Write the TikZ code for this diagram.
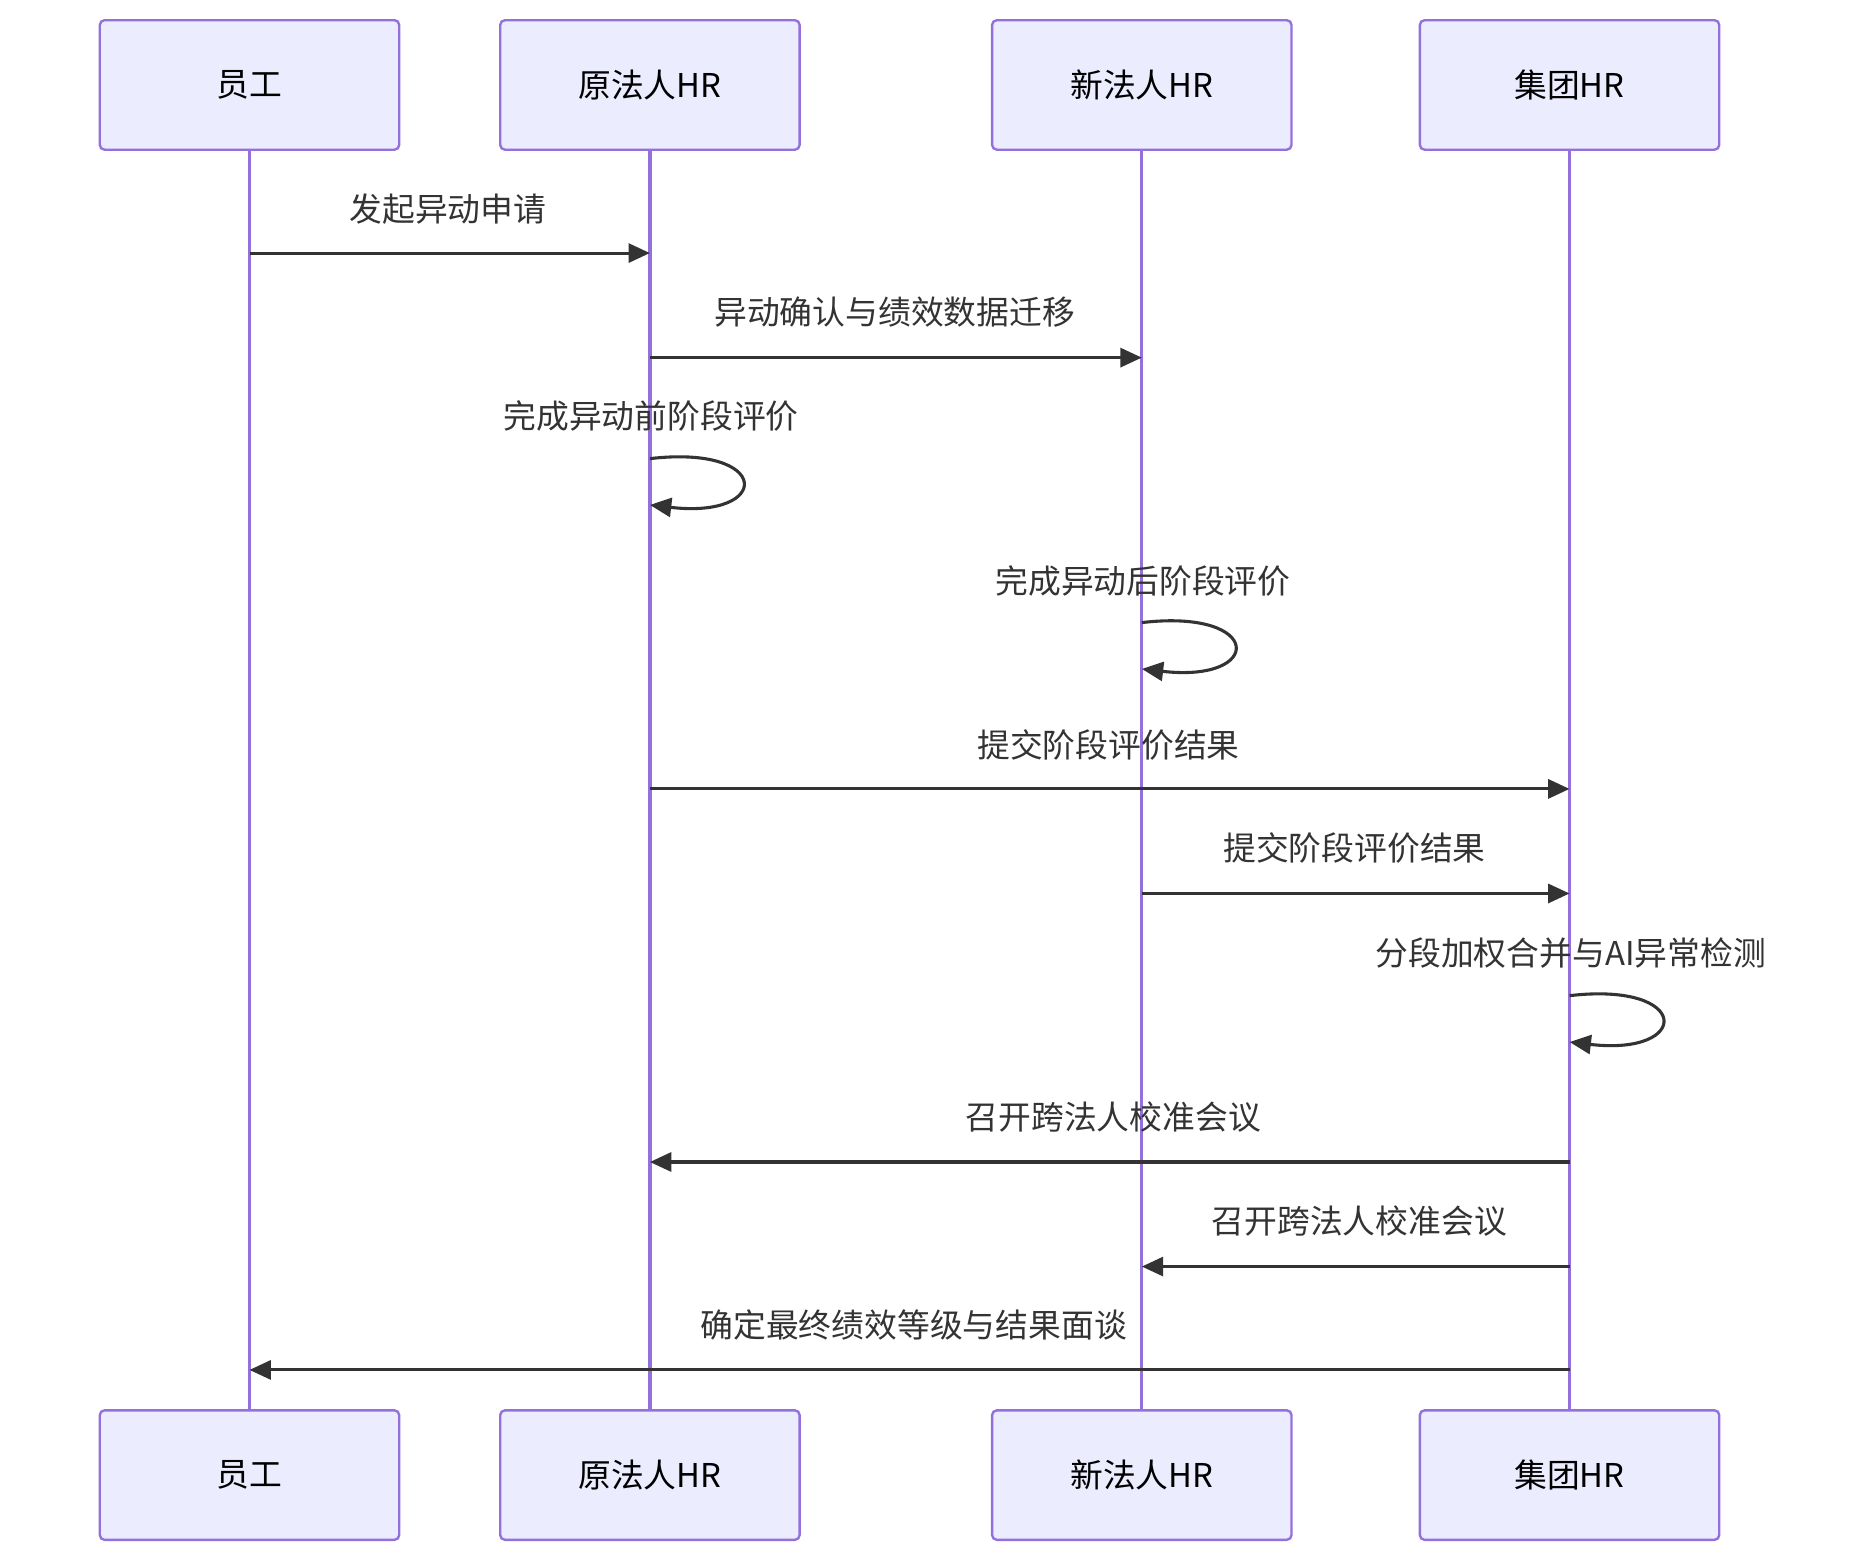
\documentclass[tikz,border=0pt]{standalone}
\usepackage{fontspec}
\setmainfont{Noto Sans CJK SC}
\usetikzlibrary{arrows.meta}
\definecolor{boxf}{HTML}{ECECFF}
\definecolor{boxd}{HTML}{9370DB}
\definecolor{ln}{HTML}{333333}
\begin{document}
\begin{tikzpicture}[x=0.5pt,y=-0.5pt,
  actor/.style={draw=boxd,fill=boxf,line width=1pt,rounded corners=2pt,minimum width=126pt,minimum height=54.5pt,font=\fontsize{13.8}{16}\selectfont,inner sep=0},
  life/.style={draw=boxd,line width=1.4pt},
  msg/.style={draw=ln,line width=1.3pt,-{Triangle[length=9pt,width=8pt]}},
  lab/.style={font=\fontsize{13.8}{16}\selectfont,text=ln,inner sep=0}]
\useasboundingbox (0,0) rectangle (1568,1315);
\foreach \n/\x/\t in {a/210/员工,b/547/原法人HR,c/961/新法人HR,d/1321/集团HR}{
  \node[actor] (\n t) at (\x,71.5) {\t};
  \node[actor] (\n b) at (\x,1241.5) {\t};
  \draw[life] (\n t.south) -- (\n b.north);
}
\foreach \n/\x in {a/210,b/547,c/961,d/1321}{
  \foreach \y in {213,301,386,425,524,563,664,752,838,877,978,1066,1153}{
    \coordinate (\n\y) at (\x,\y);}}
\draw[msg] (a213) -- (b213); \node[lab] at (377,176) {发起异动申请};
\draw[msg] (b301) -- (c301); \node[lab] at (753,263) {异动确认与绩效数据迁移};
\draw[msg] (b386) .. controls (650,374) and (650,437) .. (b425); \node[lab] at (548,350) {完成异动前阶段评价};
\draw[msg] (c524) .. controls (1064,512) and (1064,575) .. (c563); \node[lab] at (962,489) {完成异动后阶段评价};
\draw[msg] (b664) -- (d664); \node[lab] at (933,627) {提交阶段评价结果};
\draw[msg] (c752) -- (d752); \node[lab] at (1140,714) {提交阶段评价结果};
\draw[msg] (d838) .. controls (1424,826) and (1424,889) .. (d877); \node[lab] at (1322,802) {分段加权合并与AI异常检测};
\draw[msg] (d978) -- (b978); \node[lab] at (937,940) {召开跨法人校准会议};
\draw[msg] (d1066) -- (c1066); \node[lab] at (1144,1028) {召开跨法人校准会议};
\draw[msg] (d1153) -- (a1153); \node[lab] at (769,1115) {确定最终绩效等级与结果面谈};
\end{tikzpicture}
\end{document}
